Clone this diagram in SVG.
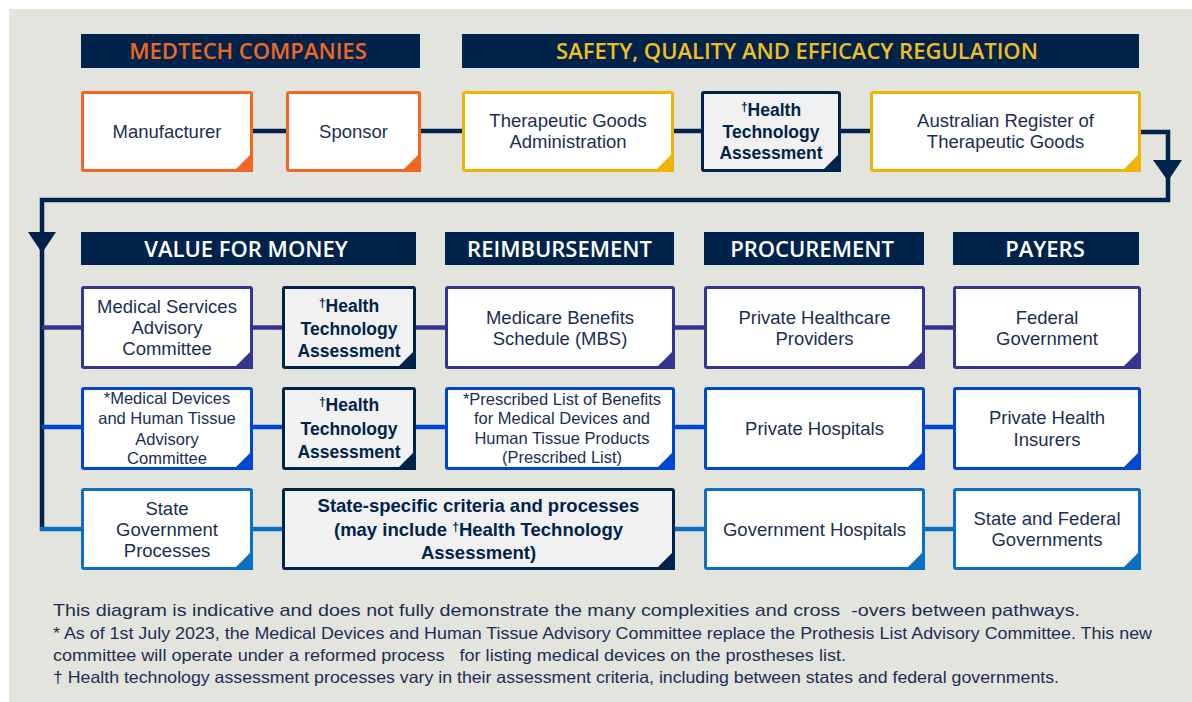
<svg xmlns="http://www.w3.org/2000/svg" width="1192" height="702" viewBox="0 0 1192 702">
<style>
.hdr{fill:#00234b}
.ht{font-family:"Open Sans","Noto Sans",sans-serif;font-weight:600;font-size:22px;text-anchor:middle;fill:#ffffff}
.nt{font-family:"Liberation Sans",Arial,sans-serif;font-size:18.5px;text-anchor:middle;fill:#1b2e52}
.sm{font-size:16.5px}
.bt{font-family:"Liberation Sans",Arial,sans-serif;font-size:17.5px;font-weight:700;text-anchor:middle;fill:#00234b}
.bt.lg{font-size:18.5px}
.dg{font-size:12px}
.box{fill:#ffffff;stroke-width:3}
.hta{fill:#f1f1f2;stroke:#00234b;stroke-width:3}
.or{stroke:#f26522}.orf{fill:#f26522}
.ye{stroke:#efb400}.yef{fill:#efb400}
.pu{stroke:#34358f}.puf{fill:#34358f}
.bl{stroke:#0047cf}.blf{fill:#0047cf}
.cy{stroke:#0a70c2}.cyf{fill:#0a70c2}
.nv{stroke:#00234b}.nvf{fill:#00234b}
.ln{fill:none;stroke-width:4.5}
.ft{font-family:"Liberation Sans",Arial,sans-serif;fill:#1b2e52;white-space:pre}
</style>
<rect x="9" y="9" width="1183" height="693" fill="#e4e4df"/>

<g id="headers">
<g id="h-medtech"><rect class="hdr" x="81" y="34" width="339" height="34"/><text class="ht" x="248" y="59" style="fill:#f26522">MEDTECH COMPANIES</text></g>
<g id="h-safety"><rect class="hdr" x="462" y="34" width="677" height="34"/><text class="ht" x="797" y="59" style="fill:#f2bd1d">SAFETY, QUALITY AND EFFICACY REGULATION</text></g>
<g id="h-value"><rect class="hdr" x="81" y="232" width="335" height="33"/><text class="ht" x="246" y="256.5">VALUE FOR MONEY</text></g>
<g id="h-reimb"><rect class="hdr" x="445" y="232" width="229" height="33"/><text class="ht" x="559.5" y="256.5">REIMBURSEMENT</text></g>
<g id="h-proc"><rect class="hdr" x="704" y="232" width="220" height="33"/><text class="ht" x="812" y="256.5">PROCUREMENT</text></g>
<g id="h-payers"><rect class="hdr" x="953" y="232" width="186" height="33"/><text class="ht" x="1045" y="256.5">PAYERS</text></g>
</g>

<g id="connectors">
<line class="ln nv" x1="253" y1="131" x2="286" y2="131"/>
<line class="ln nv" x1="421" y1="131" x2="462" y2="131"/>
<line class="ln nv" x1="674" y1="131" x2="701" y2="131"/>
<line class="ln nv" x1="841" y1="131" x2="870" y2="131"/>
<path class="ln nv" d="M1141,132 H1168 V200 H42 V531"/>
<polygon class="nvf" points="1153,160 1182,160 1168,181"/>
<polygon class="nvf" points="28,232 56,232 42,253"/>
<path class="ln pu" d="M42,327.5 H81 M253,327.5 H282 M416,327.5 H445 M675,327.5 H704 M925,327.5 H953"/>
<path class="ln bl" d="M42,427 H81 M253,427 H282 M416,427 H445 M675,427 H704 M925,427 H953"/>
<path class="ln cy" d="M40,529 H81 M253,529 H282 M675,529 H704 M925,529 H953"/>
</g>

<g id="manufacturer"><rect class="box or" x="82.5" y="92.5" width="169" height="78" rx="1.5"/><polygon class="orf" points="253,152 253,172 233,172"/><text class="nt" x="167" y="137.5">Manufacturer</text></g>
<g id="sponsor"><rect class="box or" x="287.5" y="92.5" width="132" height="78" rx="1.5"/><polygon class="orf" points="421,152 421,172 401,172"/><text class="nt" x="353.5" y="137.5">Sponsor</text></g>
<g id="tga"><rect class="box ye" x="463.5" y="92.5" width="209" height="78" rx="1.5"/><polygon class="yef" points="674,152 674,172 654,172"/><text class="nt" x="568" y="127">Therapeutic Goods<tspan x="568" dy="21">Administration</tspan></text></g>
<g id="hta-tga"><rect class="hta" x="702.5" y="92.5" width="137" height="78" rx="1.5"/><polygon class="nvf" points="841,152 841,172 821,172"/><text class="bt" x="771" y="111"><tspan class="dg">†</tspan><tspan dy="5">Health</tspan><tspan x="771" dy="21.5">Technology</tspan><tspan x="771" dy="21">Assessment</tspan></text></g>
<g id="artg"><rect class="box ye" x="871.5" y="92.5" width="268" height="78" rx="1.5"/><polygon class="yef" points="1141,152 1141,172 1121,172"/><text class="nt" x="1005.5" y="127">Australian Register of<tspan x="1005.5" dy="21">Therapeutic Goods</tspan></text></g>

<g id="msac"><rect class="box pu" x="82.5" y="287.5" width="169" height="80" rx="1.5"/><polygon class="puf" points="253,349 253,369 233,369"/><text class="nt" x="167" y="312.5">Medical Services<tspan x="167" dy="21.5">Advisory</tspan><tspan x="167" dy="21">Committee</tspan></text></g>
<g id="hta-msac"><rect class="hta" x="283.5" y="287.5" width="131" height="80" rx="1.5"/><polygon class="nvf" points="416,349 416,369 396,369"/><text class="bt" x="349" y="307"><tspan class="dg">†</tspan><tspan dy="5">Health</tspan><tspan x="349" dy="23">Technology</tspan><tspan x="349" dy="22">Assessment</tspan></text></g>
<g id="mbs"><rect class="box pu" x="446.5" y="287.5" width="227" height="80" rx="1.5"/><polygon class="puf" points="675,349 675,369 655,369"/><text class="nt" x="560" y="323.5">Medicare Benefits<tspan x="560" dy="21">Schedule (MBS)</tspan></text></g>
<g id="private-healthcare"><rect class="box pu" x="705.5" y="287.5" width="218" height="80" rx="1.5"/><polygon class="puf" points="925,349 925,369 905,369"/><text class="nt" x="814.5" y="323.5">Private Healthcare<tspan x="814.5" dy="21">Providers</tspan></text></g>
<g id="federal-gov"><rect class="box pu" x="954.5" y="287.5" width="185" height="80" rx="1.5"/><polygon class="puf" points="1141,349 1141,369 1121,369"/><text class="nt" x="1047" y="323.5">Federal<tspan x="1047" dy="21">Government</tspan></text></g>

<g id="mdhtac"><rect class="box bl" x="82.5" y="388.5" width="169" height="80" rx="1.5"/><polygon class="blf" points="253,450 253,470 233,470"/><text class="nt sm" x="167" y="404">*Medical Devices<tspan x="167" dy="20">and Human Tissue</tspan><tspan x="167" dy="21">Advisory</tspan><tspan x="167" dy="19">Committee</tspan></text></g>
<g id="hta-mdhtac"><rect class="hta" x="283.5" y="388.5" width="131" height="80" rx="1.5"/><polygon class="nvf" points="416,450 416,470 396,470"/><text class="bt" x="349" y="406"><tspan class="dg">†</tspan><tspan dy="5">Health</tspan><tspan x="349" dy="24">Technology</tspan><tspan x="349" dy="22.5">Assessment</tspan></text></g>
<g id="prescribed-list"><rect class="box bl" x="446.5" y="388.5" width="227" height="80" rx="1.5"/><polygon class="blf" points="675,450 675,470 655,470"/><text class="nt sm" x="562" y="405">*Prescribed List of Benefits<tspan x="562" dy="19">for Medical Devices and</tspan><tspan x="562" dy="20">Human Tissue Products</tspan><tspan x="562" dy="19">(Prescribed List)</tspan></text></g>
<g id="private-hospitals"><rect class="box bl" x="705.5" y="388.5" width="218" height="80" rx="1.5"/><polygon class="blf" points="925,450 925,470 905,470"/><text class="nt" x="814.5" y="434.5">Private Hospitals</text></g>
<g id="private-insurers"><rect class="box bl" x="954.5" y="388.5" width="185" height="80" rx="1.5"/><polygon class="blf" points="1141,450 1141,470 1121,470"/><text class="nt" x="1047" y="423.5">Private Health<tspan x="1047" dy="22">Insurers</tspan></text></g>

<g id="state-gov"><rect class="box cy" x="82.5" y="489.5" width="169" height="79" rx="1.5"/><polygon class="cyf" points="253,550 253,570 233,570"/><text class="nt" x="167" y="514.5">State<tspan x="167" dy="21">Government</tspan><tspan x="167" dy="21.5">Processes</tspan></text></g>
<g id="state-specific"><rect class="hta" x="283.5" y="489.5" width="390" height="79" rx="1.5"/><polygon class="nvf" points="675,550 675,570 655,570"/><text class="bt lg" x="478.5" y="512">State-specific criteria and processes<tspan x="478.5" dy="24">(may include </tspan><tspan class="dg" dy="-5">†</tspan><tspan dy="5">Health Technology</tspan><tspan x="478.5" dy="23">Assessment)</tspan></text></g>
<g id="gov-hospitals"><rect class="box cy" x="705.5" y="489.5" width="218" height="79" rx="1.5"/><polygon class="cyf" points="925,550 925,570 905,570"/><text class="nt" x="814.5" y="536">Government Hospitals</text></g>
<g id="state-federal"><rect class="box cy" x="954.5" y="489.5" width="185" height="79" rx="1.5"/><polygon class="cyf" points="1141,550 1141,570 1121,570"/><text class="nt" x="1047" y="524.5">State and Federal<tspan x="1047" dy="21.5">Governments</tspan></text></g>

<g id="footnotes">
<text class="ft" x="53" y="616" font-size="17" textLength="1027" lengthAdjust="spacingAndGlyphs">This diagram is indicative and does not fully demonstrate the many complexities and cross  -overs between pathways.</text>
<text class="ft" x="53" y="639" font-size="16.5" textLength="1099" lengthAdjust="spacingAndGlyphs">* As of 1st July 2023, the Medical Devices and Human Tissue Advisory Committee replace the Prothesis List Advisory Committee. This new</text>
<text class="ft" x="53" y="661" font-size="16.5" textLength="793" lengthAdjust="spacingAndGlyphs">committee will operate under a reformed process   for listing medical devices on the prostheses list.</text>
<text class="ft" x="53" y="683" font-size="16.5" textLength="1006" lengthAdjust="spacingAndGlyphs">† Health technology assessment processes vary in their assessment criteria, including between states and federal governments.</text>
</g>
</svg>
